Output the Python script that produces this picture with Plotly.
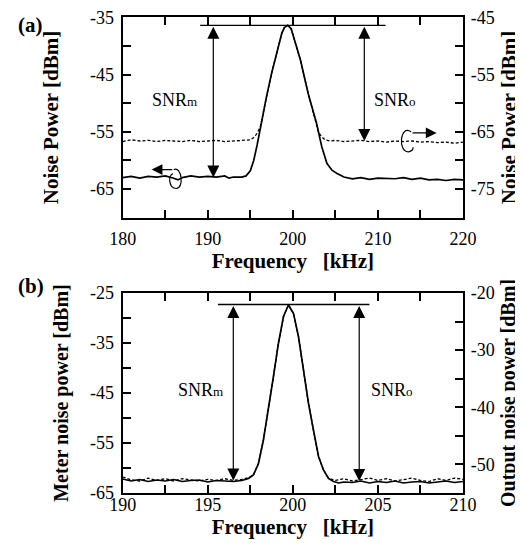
import plotly.graph_objects as go

# ---------------- Panel (a) data ----------------
a_meter_freq = [180, 181, 182, 183, 184, 185, 186, 186.5, 187, 188, 189, 190, 191, 192, 192.5, 193, 194,
                194.5, 195.0, 195.4, 195.8, 196.2, 196.6, 196.9, 197.5, 198.1, 198.7, 199.0, 199.4, 199.8,
                200.3, 200.9, 201.8, 202.8, 203.4, 204.0, 204.6, 205.2, 206.0, 207, 208, 209, 210, 211,
                212, 213, 214, 215, 216, 217, 218, 219, 220]
a_meter_dbm = [-63.0, -62.8, -63.1, -62.8, -62.9, -62.7, -63.1, -63.4, -63.0, -62.7, -62.9, -62.8, -62.9,
               -62.7, -63.1, -62.9, -62.9, -62.7, -61.8, -60.0, -57.3, -54.0, -50.8, -48.9, -44.8, -41.3,
               -37.8, -36.8, -36.4, -37.0, -39.4, -42.5, -48.3, -53.6, -57.6, -60.5, -61.7, -62.3, -62.9,
               -63.2, -63.0, -63.3, -63.1, -63.2, -63.2, -63.0, -63.3, -63.1, -63.4, -63.3, -63.5, -63.3, -63.4]

a_output_freq = [180, 181, 182, 183, 184, 185, 186, 187, 188, 189, 190, 191, 192, 193, 194, 195.0, 195.5,
                 195.9, 196.2, 196.6, 196.9, 197.5, 198.1, 198.7, 199.0, 199.4, 199.8, 200.3, 200.9, 201.8,
                 202.8, 203.0, 203.4, 203.8, 204.4, 205, 206, 207, 208, 209, 210, 211, 212, 213, 214, 215,
                 216, 217, 218, 219, 220]
a_output_dbm = [-66.7, -66.4, -66.6, -66.5, -66.7, -66.5, -66.6, -66.7, -66.5, -66.7, -66.6, -66.5, -66.7,
                -66.6, -66.5, -66.4, -65.9, -65.0, -64.0, -60.8, -58.9, -54.8, -51.3, -47.8, -46.8, -46.4,
                -47.0, -49.4, -52.5, -58.3, -63.6, -65.0, -65.9, -66.4, -66.6, -66.5, -66.7, -66.6, -66.5,
                -66.7, -66.6, -66.8, -66.6, -66.7, -66.6, -66.8, -66.7, -66.9, -66.8, -67.0, -66.8]

a_ref_freq = [189.1, 210.9]
a_ref_dbm = [-36.4, -36.4]

# ---------------- Panel (b) data ----------------
b_meter_freq = [190, 190.5, 191, 191.5, 192, 192.5, 193, 193.5, 194, 194.5, 195, 195.5, 196, 196.5, 197,
                197.39, 197.68, 197.98, 198.27, 198.56, 198.86, 199.15, 199.45, 199.74, 200.04, 200.33,
                200.62, 200.92, 201.21, 201.51, 201.80, 202.09, 202.39, 202.7, 203, 203.5, 204, 204.5, 205,
                205.5, 206, 206.5, 207, 207.5, 208, 208.5, 209, 209.5, 210]
b_meter_dbm = [-62.2, -62.6, -62.3, -62.7, -62.4, -62.6, -62.3, -62.7, -62.5, -62.4, -62.8, -62.5, -62.6,
               -62.7, -62.5, -62.1, -61.4, -59.1, -54.4, -48.4, -41.7, -35.1, -29.7, -27.4, -29.1, -33.7,
               -40.4, -47.1, -52.4, -57.7, -60.4, -62.1, -62.7, -63.0, -62.8, -62.9, -62.6, -63.0, -62.7,
               -62.9, -62.6, -63.0, -62.8, -62.7, -63.0, -62.8, -62.6, -62.9, -62.7]

b_output_freq = [190, 190.5, 191, 191.5, 192, 192.5, 193, 193.5, 194, 194.5, 195, 195.5, 196, 196.5, 197,
                 197.39, 197.68, 197.98, 198.27, 198.56, 198.86, 199.15, 199.45, 199.74, 200.04, 200.33,
                 200.62, 200.92, 201.21, 201.51, 201.80, 202.1, 202.5, 203, 203.5, 204, 204.5, 205, 205.5,
                 206, 206.5, 207, 207.5, 208, 208.5, 209, 209.5, 210]
b_output_dbm = [-52.2, -52.7, -52.9, -52.4, -52.8, -52.5, -52.9, -52.5, -52.7, -52.9, -52.6, -52.8, -52.5,
                -52.8, -52.6, -52.3, -51.9, -49.8, -45.7, -40.5, -34.6, -28.8, -24.1, -22.1, -23.6, -27.6,
                -33.5, -39.3, -44.0, -48.6, -51.0, -52.4, -52.8, -52.5, -52.9, -52.6, -52.4, -52.8, -52.5,
                -52.9, -52.6, -52.4, -52.8, -53.0, -52.5, -52.8, -52.4, -52.6]

b_ref_freq = [195.6, 204.5]
b_ref_dbm = [-27.3, -27.3]

# ---------------- Tick labels ----------------
a_xtickvals = [180, 185, 190, 195, 200, 205, 210, 215, 220]
a_xticktext = ["180", "", "190", "", "200", "", "210", "", "220"]
a_ytickvals = [-70, -65, -60, -55, -50, -45, -40, -35]
a_yticktext = ["", "-65", "", "-55", "", "-45", "", "-35"]
a_y2tickvals = [-80, -75, -70, -65, -60, -55, -50, -45]
a_y2ticktext = ["", "-75", "", "-65", "", "-55", "", "-45"]

b_xtickvals = [190, 192.5, 195, 197.5, 200, 202.5, 205, 207.5, 210]
b_xticktext = ["190", "", "195", "", "200", "", "205", "", "210"]
b_ytickvals = [-65, -60, -55, -50, -45, -40, -35, -30, -25]
b_yticktext = ["-65", "", "-55", "", "-45", "", "-35", "", "-25"]
b_y2tickvals = [-55, -50, -45, -40, -35, -30, -25, -20]
b_y2ticktext = ["", "-50", "", "-40", "", "-30", "", "-20"]

SERIF = "Liberation Serif"
W, H = 523, 546
OFF = 8  # page body margin offset


def px_x(sx):
    return (sx - OFF) / W


def px_y(sy):
    return 1 - (sy - OFF) / H


fig = go.Figure()
line_solid = dict(color="black", width=1.7)
line_dash = dict(color="black", width=1.3, dash="3px,2px")

fig.add_trace(go.Scatter(x=a_meter_freq, y=a_meter_dbm, mode="lines", line=line_solid, xaxis="x", yaxis="y"))
fig.add_trace(go.Scatter(x=a_output_freq, y=a_output_dbm, mode="lines", line=line_dash, xaxis="x", yaxis="y2"))
fig.add_trace(go.Scatter(x=a_ref_freq, y=a_ref_dbm, mode="lines", line=dict(color="black", width=1.3),
                         xaxis="x", yaxis="y"))
fig.add_trace(go.Scatter(x=b_output_freq, y=b_output_dbm, mode="lines", line=line_dash, xaxis="x2", yaxis="y4"))
fig.add_trace(go.Scatter(x=b_meter_freq, y=b_meter_dbm, mode="lines", line=line_solid, xaxis="x2", yaxis="y3"))
fig.add_trace(go.Scatter(x=b_ref_freq, y=b_ref_dbm, mode="lines", line=dict(color="black", width=1.3),
                         xaxis="x2", yaxis="y3"))

tickfont = dict(family=SERIF, size=18, color="black")
titlefont = dict(family=SERIF, size=20, color="black")
titlefont_a = dict(family=SERIF, size=21, color="black")
common = dict(showline=True, linecolor="black", linewidth=2.2, ticks="inside", ticklen=8, tickwidth=1.5,
              tickcolor="black", showgrid=False, zeroline=False, tickfont=tickfont, tickmode="array",
              automargin=False, ticklabeloverflow="allow")

xdom = [px_x(122.7), px_x(463.0)]
ya_dom = [px_y(217.7), px_y(17.3)]
yb_dom = [px_y(493.0), px_y(293.0)]

xtitle = "<b>Frequency&nbsp;&nbsp; [kHz]</b>"

fig.update_layout(
    width=W, height=H, autosize=False, showlegend=False,
    margin=dict(l=0, r=0, t=0, b=0, pad=0),
    paper_bgcolor="white", plot_bgcolor="white",
    xaxis=dict(common, domain=xdom, anchor="y", range=[180, 220], tickvals=a_xtickvals, ticktext=a_xticktext,
               mirror="ticks", ticklabelstandoff=4,
               title=dict(text=xtitle, font=titlefont_a, standoff=1)),
    yaxis=dict(common, domain=ya_dom, anchor="x", range=[-70, -35], tickvals=a_ytickvals, ticktext=a_yticktext,
               ticklabelstandoff=3,
               title=dict(text="<b>Noise Power [dBm]</b>", font=titlefont_a, standoff=26)),
    yaxis2=dict(common, overlaying="y", anchor="x", side="right", range=[-80, -45], tickvals=a_y2tickvals,
                ticktext=a_y2ticktext, ticklabelstandoff=2,
                title=dict(text="<b>Noise Power [dBm]</b>", font=titlefont_a, standoff=8)),
    xaxis2=dict(common, domain=xdom, anchor="y3", range=[190, 210], tickvals=b_xtickvals, ticktext=b_xticktext,
                mirror="ticks", ticklabelstandoff=-6,
                title=dict(text=xtitle, font=titlefont_a, standoff=4)),
    yaxis3=dict(common, domain=yb_dom, anchor="x2", range=[-65, -25], tickvals=b_ytickvals, ticktext=b_yticktext,
                ticklabelstandoff=3,
                title=dict(text="<b>Meter noise power [dBm]</b>", font=titlefont, standoff=16)),
    yaxis4=dict(common, overlaying="y3", anchor="x2", side="right", range=[-55, -20], tickvals=b_y2tickvals,
                ticktext=b_y2ticktext, ticklabelstandoff=2,
                title=dict(text="<b>Output noise power [dBm]</b>", font=titlefont, standoff=7)),
)

ann_font = dict(family=SERIF, size=18, color="black")
snr_m = "SNR<span style='font-size:13px'>m</span>"
snr_o = "SNR<span style='font-size:13px'>o</span>"


def double_arrow(x, y0, y1, xref, yref):
    return dict(x=x, y=y1, ax=x, ay=y0, xref=xref, yref=yref, axref=xref, ayref=yref, text="",
                showarrow=True, arrowside="end+start", arrowhead=2, arrowsize=2.0, arrowwidth=1.2,
                arrowcolor="black", standoff=0, startstandoff=0)


annotations = [
    dict(text="<b>(a)</b>", x=px_x(16), y=px_y(25), xref="paper", yref="paper", showarrow=False,
         font=dict(family=SERIF, size=21, color="black"), xanchor="left", yanchor="middle"),
    dict(text="<b>(b)</b>", x=px_x(16), y=px_y(286), xref="paper", yref="paper", showarrow=False,
         font=dict(family=SERIF, size=21, color="black"), xanchor="left", yanchor="middle"),
    dict(text=snr_m, x=186.1, y=-49.5, xref="x", yref="y", showarrow=False, font=ann_font),
    dict(text=snr_o, x=212.0, y=-59.5, xref="x", yref="y2", showarrow=False, font=ann_font),
    dict(text=snr_m, x=194.6, y=-44.4, xref="x2", yref="y3", showarrow=False, font=ann_font),
    dict(text=snr_o, x=205.8, y=-44.4, xref="x2", yref="y3", showarrow=False, font=ann_font),
    double_arrow(190.65, -36.4, -63.0, "x", "y"),
    double_arrow(208.4, -46.4, -66.6, "x", "y2"),
    double_arrow(196.5, -27.3, -62.5, "x2", "y3"),
    double_arrow(203.9, -27.3, -62.6, "x2", "y3"),
    # axis-indicator arrows
    dict(x=183.4, y=-61.6, ax=186.0, ay=-61.6, xref="x", yref="y", axref="x", ayref="y", text="",
         showarrow=True, arrowhead=2, arrowsize=1.8, arrowwidth=1.2, arrowcolor="black"),
    dict(x=216.9, y=-65.2, ax=213.9, ay=-65.2, xref="x", yref="y2", axref="x", ayref="y2", text="",
         showarrow=True, arrowhead=2, arrowsize=1.8, arrowwidth=1.2, arrowcolor="black"),
]
fig.update_layout(annotations=annotations)

shapes = [
    dict(type="path", xref="x", yref="y", line=dict(color="black", width=1.2),
         path="M 186.0,-61.6 C 187.0,-61.0 187.2,-64.9 186.3,-64.9 C 185.4,-64.9 185.3,-62.6 185.9,-62.3"),
    dict(type="path", xref="x", yref="y2", line=dict(color="black", width=1.2),
         path="M 213.9,-65.0 C 212.6,-63.6 212.3,-68.6 213.6,-68.5 C 214.0,-68.4 214.2,-68.0 214.1,-67.7"),
]
fig.update_layout(shapes=shapes)

fig.write_html("out.html")
